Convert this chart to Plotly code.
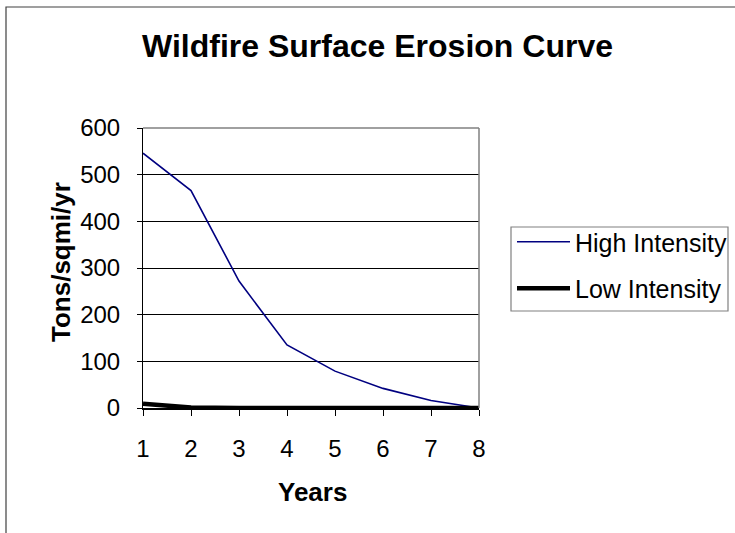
import plotly.graph_objects as go

years = [1, 2, 3, 4, 5, 6, 7, 8]
high_intensity = [546, 466, 272, 135, 79, 42, 16, 0]
low_intensity = [9, 1, 0, 0, 0, 0, 0, 0]
y_ticks = [0, 100, 200, 300, 400, 500, 600]

W, H = 735, 533
L, R, T, B = 143, 479, 128, 408
pw, ph = R - L, B - T

def px_x(p):
    return (p - L) / pw

def px_y(p):
    return (B - p) / ph

FONT = "Liberation Sans, Arial, sans-serif"

fig = go.Figure()
fig.add_trace(go.Scatter(x=years, y=high_intensity, mode="lines", name="High Intensity",
                         line=dict(color="#000080", width=1.6), legendgroup="a", cliponaxis=False))
fig.add_trace(go.Scatter(x=years, y=low_intensity, mode="lines", name="Low Intensity",
                         line=dict(color="#000000", width=4.5), legendgroup="b", cliponaxis=False))

fig.update_layout(
    width=W, height=H,
    margin=dict(l=L, r=W - R, t=T, b=H - B, pad=0, autoexpand=False),
    paper_bgcolor="white", plot_bgcolor="white",
    font=dict(family=FONT, size=24, color="black"),
    title=dict(text="<b>Wildfire Surface Erosion Curve</b>", x=377.5 / W, xanchor="center",
               y=1 - 46 / H, yanchor="middle", font=dict(size=32, family=FONT, color="black")),
    showlegend=True,
    legend=dict(x=px_x(512), y=px_y(219), xanchor="left", yanchor="top",
                bgcolor="rgba(0,0,0,0)", borderwidth=0, font=dict(size=25, family=FONT),
                traceorder="grouped", tracegroupgap=11, itemwidth=53),
    xaxis=dict(range=[1, 8], tickvals=years, ticktext=[str(v) for v in years],
               showgrid=False, zeroline=False, showline=True, linecolor="black", linewidth=2,
               ticks="outside", ticklen=6, tickcolor="black", ticklabelstandoff=12,
               mirror=False, fixedrange=True),
    yaxis=dict(range=[0, 600], tickvals=y_ticks, showgrid=True, gridcolor="#000000", gridwidth=0.8,
               zeroline=False, showline=True, linecolor="black", linewidth=1,
               ticks="outside", ticklen=5, tickcolor="black", ticklabelstandoff=12, fixedrange=True),
    annotations=[
        dict(text="<b>Years</b>", x=px_x(312.5), y=px_y(492), xref="paper", yref="paper",
             xanchor="center", yanchor="middle", showarrow=False, font=dict(size=26, family=FONT)),
        dict(text="<b>Tons/sqmi/yr</b>", x=px_x(61), y=px_y(262), xref="paper", yref="paper",
             xanchor="center", yanchor="middle", textangle=-90, showarrow=False,
             font=dict(size=26, family=FONT)),
    ],
    shapes=[
        # plot area border (top/right gray)
        dict(type="line", xref="paper", yref="paper", x0=0, x1=1, y0=1, y1=1,
             line=dict(color="#808080", width=1.5)),
        dict(type="line", xref="paper", yref="paper", x0=1, x1=1, y0=0, y1=1,
             line=dict(color="#808080", width=1.5)),
        # legend box
        dict(type="rect", xref="paper", yref="paper", x0=px_x(511), x1=px_x(728),
             y0=px_y(311), y1=px_y(227), line=dict(color="#808080", width=1.2)),
        # chart outer border
        dict(type="rect", xref="paper", yref="paper", x0=px_x(6), x1=px_x(745),
             y0=px_y(545), y1=px_y(7), line=dict(color="#404040", width=1.2)),
    ],
)

fig.write_html("out.html")
